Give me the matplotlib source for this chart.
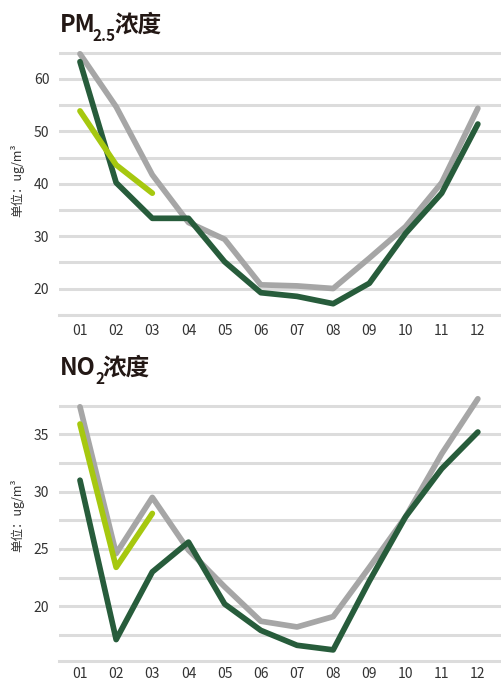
import matplotlib
matplotlib.use("Agg")
import matplotlib.pyplot as plt
from matplotlib.ticker import MultipleLocator

plt.rcParams["font.family"] = ["Noto Sans CJK SC", "DejaVu Sans"]

months = ["01", "02", "03", "04", "05", "06", "07", "08", "09", "10", "11", "12"]

# PM2.5 (ug/m3)
pm25_prev = [64.8, 54.7, 41.7, 32.6, 29.4, 20.7, 20.5, 20.0, 25.8, 31.8, 40.2, 54.4]
pm25_curr = [63.3, 40.2, 33.4, 33.4, 25.1, 19.2, 18.5, 17.1, 21.0, 30.5, 38.2, 51.4]
pm25_new = [53.9, 43.6, 38.2]
pm25_ticks = [20, 30, 40, 50, 60]

# NO2 (ug/m3)
no2_prev = [37.4, 24.6, 29.5, 24.9, 21.7, 18.7, 18.2, 19.1, 23.4, 27.8, 33.3, 38.1]
no2_curr = [31.0, 17.1, 23.0, 25.6, 20.2, 17.9, 16.6, 16.2, 22.2, 27.8, 32.0, 35.2]
no2_new = [35.9, 23.4, 28.1]
no2_ticks = [20, 25, 30, 35]

GRAY = "#a6a6a6"
DARK = "#275c3b"
LIGHT = "#a6c80f"
GRID = "#dcdcdc"
TEXT = "#333333"
TITLE = "#231815"

W, H = 501, 681
fig = plt.figure(figsize=(W / 100, H / 100), dpi=100)


def draw_panel(ax, prev, curr, new, ylim, ticks, minor, xpad):
    x = list(range(1, len(months) + 1))
    lw = 4.1
    ax.plot(x, prev, color=GRAY, lw=lw, solid_capstyle="round", zorder=3, clip_on=False)
    ax.plot(x, curr, color=DARK, lw=lw, solid_capstyle="round", zorder=4, clip_on=False)
    ax.plot(x[:len(new)], new, color=LIGHT, lw=lw, solid_capstyle="round", zorder=5,
            clip_on=False)
    ax.set_xlim(0.42, 12.64)
    ax.set_ylim(*ylim)
    ax.set_xticks(x)
    ax.set_xticklabels(months)
    ax.set_yticks(ticks)
    ax.yaxis.set_minor_locator(MultipleLocator(minor))
    ax.yaxis.grid(True, which="both", color=GRID, lw=2.2, zorder=0)
    ax.set_axisbelow(True)
    for name, s in ax.spines.items():
        if name == "bottom":
            s.set_color(GRID)
            s.set_linewidth(2.2)
        else:
            s.set_visible(False)
    ax.tick_params(axis="both", which="both", length=0, labelsize=10, labelcolor=TEXT)
    ax.tick_params(axis="y", pad=7)
    ax.tick_params(axis="x", pad=xpad)


def draw_title(ax, y_px, main, sub, sub_dx):
    t1 = fig.text(60 / W, 1 - y_px / H, main, fontsize=17, weight="bold",
                  color=TITLE, va="baseline", ha="left")
    t2 = ax.annotate(sub, xy=(1, 0), xycoords=t1, xytext=(sub_dx, -5),
                     textcoords="offset points", fontsize=11, weight="bold",
                     color=TITLE, va="bottom", ha="left", annotation_clip=False)
    ax.annotate("浓度", xy=(1, 0), xycoords=(t2, t1), xytext=(-1, 0),
                textcoords="offset points", fontsize=17, weight="bold",
                color=TITLE, va="bottom", ha="left", annotation_clip=False)


ax1 = fig.add_axes([59 / W, 1 - 314.7 / H, (W - 59) / W, (314.7 - 49.65) / H])
draw_panel(ax1, pm25_prev, pm25_curr, pm25_new, (15.0, 65.6), pm25_ticks, 5, 6.5)
ax2 = fig.add_axes([59 / W, 1 - 661 / H, (W - 59) / W, (661 - 402.7) / H])
draw_panel(ax2, no2_prev, no2_curr, no2_new, (15.23, 37.76), no2_ticks, 2.5, 4.5)

draw_title(ax1, 32, "PM", "2.5", -2.5)
draw_title(ax2, 375, "NO", "2", -0.5)

for yc in (180, 515):
    fig.text(17 / W, 1 - yc / H, "单位：ug/m³", rotation=90, fontsize=9,
             color=TEXT, va="center", ha="center")

fig.savefig("out.png", dpi=100)
